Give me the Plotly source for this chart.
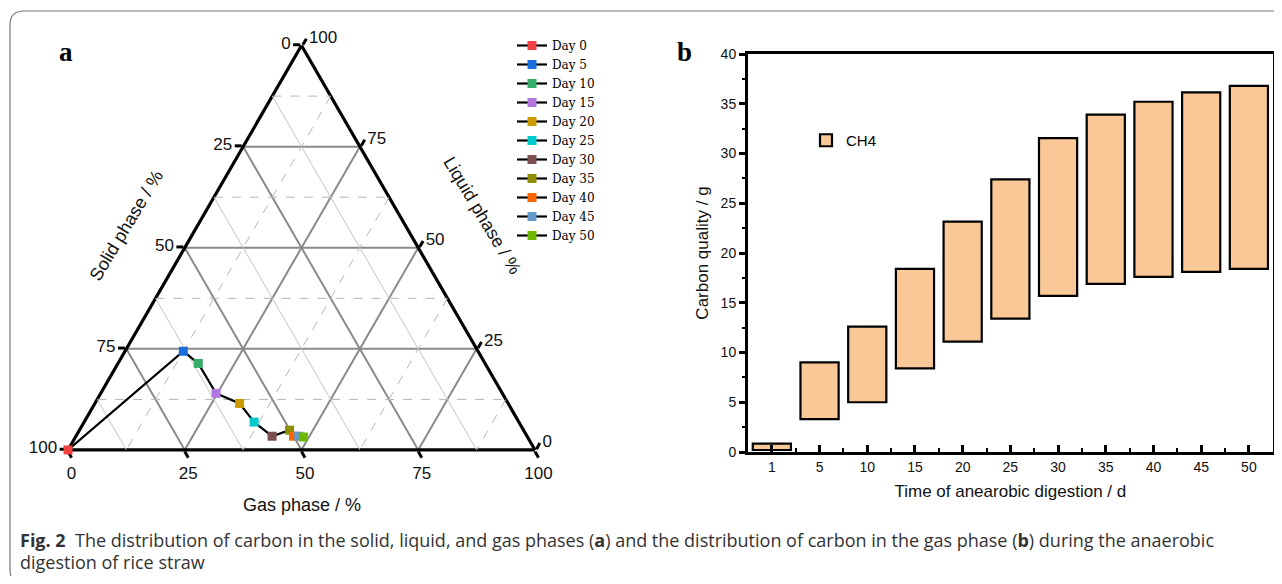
import plotly.graph_objects as go

# ---------------- data ----------------
day_labels = ["Day 0", "Day 5", "Day 10", "Day 15", "Day 20", "Day 25",
              "Day 30", "Day 35", "Day 40", "Day 45", "Day 50"]
solid_pct  = [100.0, 63.1, 61.4, 61.3, 57.5, 56.7, 54.6, 50.1, 50.0, 48.9, 48.0]
liquid_pct = [0.0, 24.4, 21.4, 14.0, 11.5, 6.9, 3.4, 4.9, 3.4, 3.4, 3.2]
gas_pct    = [0.0, 12.5, 17.2, 24.7, 31.0, 36.4, 42.0, 45.0, 46.6, 47.7, 48.8]
day_colors = ["#F14040", "#1A6FDF", "#37AD6B", "#B177DE", "#CC9900", "#00CBCC",
              "#7D4E4E", "#8E8E00", "#FB6501", "#6699CC", "#6FB802"]

tern_ticks = [0, 25, 50, 75, 100]
tern_minor = [12.5, 37.5, 62.5, 87.5]

bar_days   = ["1", "5", "10", "15", "20", "25", "30", "35", "40", "45", "50"]
ch4_low    = [0.2, 3.3, 5.0, 8.4, 11.1, 13.4, 15.7, 16.9, 17.6, 18.1, 18.4]
ch4_high   = [0.85, 9.0, 12.6, 18.4, 23.15, 27.4, 31.55, 33.9, 35.2, 36.15, 36.8]

# the page body has an 8px margin: figure is sized to fit the window inside it
OFF = 8
W, H = 1282 - 2 * OFF, 584 - 2 * OFF
def px(x): return (x - OFF) / W
def py(y): return 1 - (y - OFF) / H

fig = go.Figure()

# ---------------- minor ternary grid lines ----------------
def minor_lines(kind):
    a, b, c = [], [], []
    for v in tern_minor:
        r = 100 - v
        if kind == "a":      # constant liquid (horizontal)
            a += [v, v, None]; b += [r, 0, None]; c += [0, r, None]
        elif kind == "b":    # constant solid
            b += [v, v, None]; a += [r, 0, None]; c += [0, r, None]
        else:                # constant gas
            c += [v, v, None]; a += [r, 0, None]; b += [0, r, None]
    return a, b, c

for kind, dash, col in [("a", "dash", "#b5b5b5"), ("b", "solid", "#c4c4c4"), ("c", "dash", "#b5b5b5")]:
    a, b, c = minor_lines(kind)
    fig.add_trace(go.Scatterternary(a=a, b=b, c=c, mode="lines",
                                    line=dict(color=col, width=1, dash=dash),
                                    showlegend=False, hoverinfo="skip"))

# connecting path
fig.add_trace(go.Scatterternary(a=liquid_pct, b=solid_pct, c=gas_pct, mode="lines",
                                line=dict(color="black", width=2.2),
                                showlegend=False, hoverinfo="skip", cliponaxis=False))
# day markers
for i, lab in enumerate(day_labels):
    fig.add_trace(go.Scatterternary(
        a=[liquid_pct[i]], b=[solid_pct[i]], c=[gas_pct[i]],
        mode="lines+markers", name=lab,
        line=dict(color="black", width=2.2),
        marker=dict(symbol="square", size=9, color=day_colors[i]),
        cliponaxis=False, legend="legend"))

# ---------------- bars ----------------
xi = list(range(len(bar_days)))
fig.add_trace(go.Bar(
    x=xi, y=[h - l for h, l in zip(ch4_high, ch4_low)], base=ch4_low,
    width=0.8, name="CH4",
    marker=dict(color="#FAC896", line=dict(color="black", width=2.2)),
    xaxis="x", yaxis="y", legend="legend2"))

tickfont_t = dict(family="Liberation Sans", size=17, color="#111")
def tern_axis():
    return dict(title=dict(text=""), tickmode="array", tickvals=tern_ticks,
                ticktext=[str(100 - t) for t in tern_ticks],
                ticks="outside", ticklen=7, tickwidth=2.5, tickcolor="black",
                showline=True, linecolor="black", linewidth=3.2,
                showgrid=True, gridcolor="#8a8a8a", gridwidth=1.6,
                tickfont=tickfont_t, layer="below traces")

fig.update_layout(
    width=W, height=H,
    margin=dict(l=0, r=0, t=0, b=0, autoexpand=False),
    paper_bgcolor="white", plot_bgcolor="white",
    showlegend=True,
    ternary=dict(
        domain=dict(x=[px(68), px(535)], y=[py(450), py(45.5)]),
        sum=100, bgcolor="white",
        aaxis=tern_axis(), baxis=tern_axis(), caxis=tern_axis()),
    xaxis=dict(domain=[px(748), min(px(1278), 0.999)], range=[-0.5, len(bar_days) - 0.5],
               tickmode="array", tickvals=xi, ticktext=bar_days,
               ticks="inside", ticklen=7, tickwidth=2.5, tickcolor="black",
               minor=dict(tickmode="linear", tick0=-0.5, dtick=1, ticks="inside",
                          ticklen=4, tickwidth=2, tickcolor="black"),
               showline=True, linecolor="black", linewidth=3, mirror=True,
               showgrid=False, zeroline=False,
               tickfont=dict(family="Liberation Sans", size=14, color="#111"),
               title=dict(text="Time of anearobic digestion / d", standoff=12,
                          font=dict(family="Liberation Sans", size=17, color="#111"))),
    yaxis=dict(domain=[py(452), py(54)], range=[0, 40], dtick=5,
               ticks="outside", ticklen=6, tickwidth=2.5, tickcolor="black",
               minor=dict(dtick=2.5, ticks="outside", ticklen=3, tickwidth=2, tickcolor="black"),
               showline=True, linecolor="black", linewidth=3, mirror=True,
               showgrid=False, zeroline=False,
               tickfont=dict(family="Liberation Sans", size=14, color="#111"),
               title=dict(text="Carbon quality / g", standoff=8,
                          font=dict(family="Liberation Sans", size=17, color="#111"))),
    legend=dict(x=px(512), y=py(31), xanchor="left", yanchor="top",
                font=dict(family="DejaVu Serif", size=12, color="black"),
                bgcolor="rgba(0,0,0,0)", itemwidth=30, tracegroupgap=0),
    legend2=dict(x=px(806), y=py(124), xanchor="left", yanchor="top",
                 font=dict(family="Liberation Sans", size=15, color="black"),
                 bgcolor="rgba(0,0,0,0)"),
)

ann = [
    dict(text="Solid phase / %", x=px(126), y=py(226), textangle=-59,
         font=dict(family="Liberation Sans", size=18, color="#111")),
    dict(text="Liquid phase / %", x=px(482), y=py(215), textangle=59,
         font=dict(family="Liberation Sans", size=18, color="#111")),
    dict(text="Gas phase / %", x=px(302), y=py(505),
         font=dict(family="Liberation Sans", size=18, color="#111")),
    dict(text="<b>a</b>", x=px(66), y=py(52),
         font=dict(family="Liberation Serif", size=27, color="black")),
    dict(text="<b>b</b>", x=px(685), y=py(52),
         font=dict(family="Liberation Serif", size=27, color="black")),
    dict(text="<b>Fig. 2</b>  The distribution of carbon in the solid, liquid, and gas phases (<b>a</b>) and the distribution of carbon in the gas phase (<b>b</b>) during the anaerobic",
         x=px(18), y=py(540), xanchor="left",
         font=dict(family="Open Sans", size=18, color="#333")),
    dict(text="digestion of rice straw", x=px(18), y=py(562), xanchor="left",
         font=dict(family="Open Sans", size=18, color="#333")),
]
for a in ann:
    a.update(xref="paper", yref="paper", showarrow=False)
    if "xanchor" not in a:
        a["xanchor"] = "center"
    a["yanchor"] = "middle"
fig.update_layout(annotations=ann)

# rounded outer frame
r = 14
fig.add_shape(type="path", xref="paper", yref="paper",
              path=f"M {px(1300)},{py(11)} L {px(10 + r)},{py(11)} Q {px(10)},{py(11)} {px(10)},{py(11 + r)} "
                   f"L {px(10)},{py(570)} Q {px(10)},{py(584)} {px(10 + r)},{py(584)}",
              line=dict(color="#7a7a7a", width=1.2))

fig.write_html("out.html")
